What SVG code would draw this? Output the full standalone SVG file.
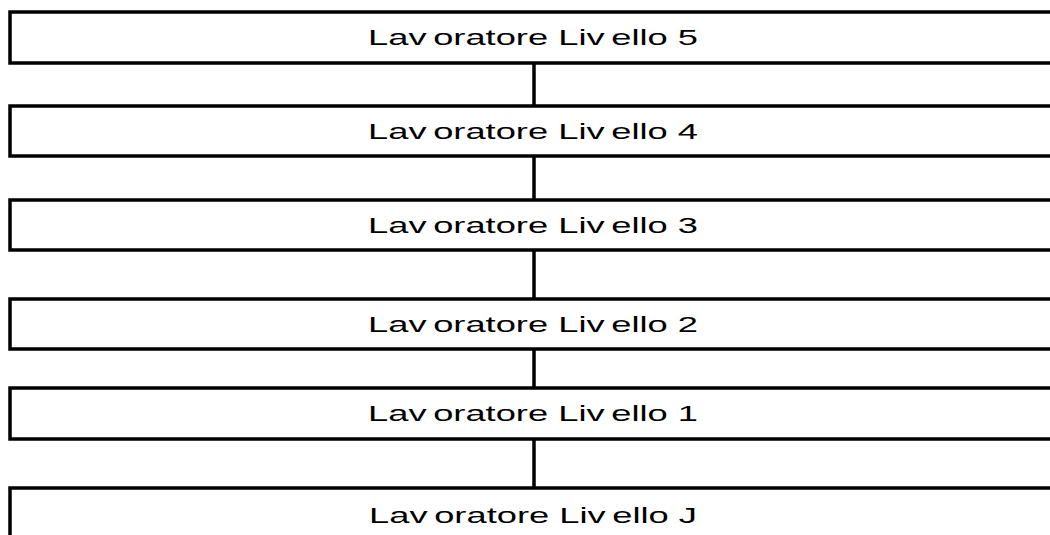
<svg xmlns="http://www.w3.org/2000/svg" width="1050" height="535" viewBox="0 0 1050 535">
<style>
.box{fill:#fff;stroke:#000;stroke-width:3.5}
.lbl{font-family:"Liberation Sans",Arial,sans-serif;font-size:22px;fill:#000;text-anchor:middle}
.con{stroke:#000;stroke-width:3.5;fill:none}
</style>
<rect width="1050" height="535" fill="#fff"/>
<g id="connectors">
<line class="con" x1="534" y1="63" x2="534" y2="106"/>
<line class="con" x1="534" y1="156" x2="534" y2="200"/>
<line class="con" x1="534" y1="250" x2="534" y2="299"/>
<line class="con" x1="534" y1="349" x2="534" y2="388"/>
<line class="con" x1="534" y1="439" x2="534" y2="488"/>
</g>
<g id="n5"><rect class="box" x="10" y="12" width="1060" height="51"/>
<text class="lbl" transform="translate(533,45) scale(1.65,1)">Lav<tspan dx="4">oratore Liv</tspan><tspan dx="4">ello 5</tspan></text></g>
<g id="n4"><rect class="box" x="10" y="106" width="1060" height="50"/>
<text class="lbl" transform="translate(533,138.5) scale(1.65,1)">Lav<tspan dx="4">oratore Liv</tspan><tspan dx="4">ello 4</tspan></text></g>
<g id="n3"><rect class="box" x="10" y="200" width="1060" height="50"/>
<text class="lbl" transform="translate(533,232.5) scale(1.65,1)">Lav<tspan dx="4">oratore Liv</tspan><tspan dx="4">ello 3</tspan></text></g>
<g id="n2"><rect class="box" x="10" y="299" width="1060" height="50"/>
<text class="lbl" transform="translate(533,331.5) scale(1.65,1)">Lav<tspan dx="4">oratore Liv</tspan><tspan dx="4">ello 2</tspan></text></g>
<g id="n1"><rect class="box" x="10" y="388" width="1060" height="51"/>
<text class="lbl" transform="translate(533,421) scale(1.65,1)">Lav<tspan dx="4">oratore Liv</tspan><tspan dx="4">ello 1</tspan></text></g>
<g id="nJ"><rect class="box" x="10" y="488" width="1060" height="60"/>
<text class="lbl" transform="translate(533,523) scale(1.65,1)">Lav<tspan dx="4">oratore Liv</tspan><tspan dx="4">ello J</tspan></text></g>
</svg>
